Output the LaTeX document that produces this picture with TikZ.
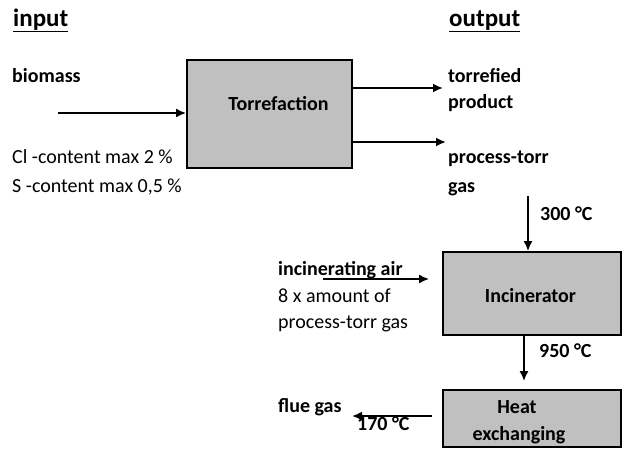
\documentclass[tikz,border=0pt]{standalone}
\usepackage{fontspec}
\setmainfont{Carlito}
\usepackage{xcolor}
\usetikzlibrary{positioning, arrows.meta}
\definecolor{boxgray}{RGB}{192,192,192}
\begin{document}
\begin{tikzpicture}[x=1pt,y=-1pt,
    font=\fontsize{20}{24}\selectfont,
    unitbox/.style={draw,line width=1.8pt,fill=boxgray,inner sep=0pt},
    txt/.style={anchor=base west,inner sep=0pt},
    btxt/.style={txt,font=\fontsize{20}{24}\selectfont\bfseries},
    htxt/.style={txt,font=\fontsize{25}{30}\selectfont\bfseries},
    ctxt/.style={anchor=base,inner sep=0pt,font=\fontsize{20}{24}\selectfont\bfseries},
    flow/.style={-{Latex[length=10pt,width=9pt]},line width=1.8pt}]
    \useasboundingbox (0,0) rectangle (622,448);

    % process units
    \node[unitbox, minimum width=165pt, minimum height=108pt] (torr) at (269.5,114) {};
    \node[unitbox, minimum width=178pt, minimum height=83pt] (inc) at (532,293.5) {};
    \node[unitbox, minimum width=178pt, minimum height=57pt] (heat) at (532,418.5) {};

    \node[ctxt] (torrlbl) at (278.5,110) {Torrefaction};
    \node[ctxt] (inclbl) at (530.5,302) {Incinerator};
    \node[ctxt] (heatlbl) at (517,413) {Heat};
    \node[ctxt] (exchlbl) at (519,440) {exchanging};

    % headings
    \node[htxt] (input) at (13,26) {\underline{input}};
    \node[htxt] (output) at (449,26) {\underline{output}};

    % labels
    \foreach \px/\py/\nm/\lbl in {
        12/82/biomass/biomass,
        448/82/torrefied/torrefied,
        448/108/product/product,
        448/163/gasout/process-torr,
        448/192/gasout2/gas,
        540/220/tthree/{300 °C},
        278/275/air/{incinerating air},
        539/357/tnine/{950 °C},
        278/412/flue/{flue gas},
        357/430/tone/{170 °C}
    }{
        \node[btxt] (\nm) at (\px,\py) {\lbl};
    }
    \foreach \px/\py/\nm/\lbl in {
        12/163/cl/{Cl -content max 2 \%},
        12/192/sul/{S -content max 0,5 \%},
        278/302/amount/{8 x amount of},
        278/328/amount2/{process-torr gas}
    }{
        \node[txt] (\nm) at (\px,\py) {\lbl};
    }

    % streams
    \coordinate (bioin) at (58,113);
    \coordinate (prodend) at (443,88);
    \coordinate (gasend) at (446,142);
    \coordinate (hotgas) at (528,196);
    \coordinate (airin) at (323,279);
    \coordinate (flueend) at (352,416);
    \coordinate (hotflue) at (524,340);

    \draw[flow] (bioin) -- (bioin -| torr.west);
    \draw[flow] (prodend -| torr.east) -- (prodend);
    \draw[flow] (gasend -| torr.east) -- (gasend);
    \draw[flow] (hotgas) -- (hotgas |- inc.north);
    \draw[flow, shorten >=13pt] (airin) -- (airin -| inc.west);
    \draw[flow, shorten >=8pt] (hotflue |- inc.south) -- (hotflue |- heat.north);
    \draw[flow, shorten <=10pt] (flueend -| heat.west) -- (flueend);
\end{tikzpicture}
\end{document}
